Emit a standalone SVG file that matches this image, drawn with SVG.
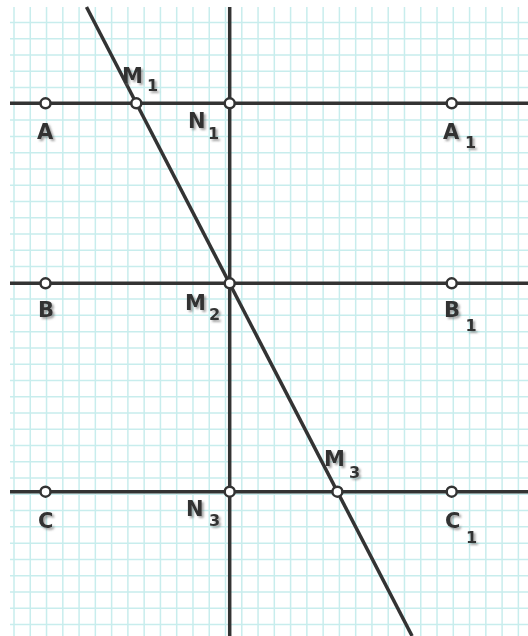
<svg xmlns="http://www.w3.org/2000/svg" width="528" height="636" viewBox="0 0 528 636">
<defs>
<style>
.grid{stroke:#c8eded;stroke-width:1.5;fill:none}
.ln{stroke:#333;stroke-width:3.5;fill:none;stroke-linecap:butt}
.pt{fill:#fff;stroke:#333;stroke-width:2.5}
.lb{font-family:"DejaVu Sans",Verdana,sans-serif;font-weight:bold;font-size:21px;fill:#333;filter:url(#sh)}
.sub{font-size:16px}
</style>
<filter id="sh" x="-30%" y="-30%" width="160%" height="160%">
<feDropShadow dx="2" dy="2" stdDeviation="1.2" flood-color="#666" flood-opacity="0.6"/>
</filter>
</defs>
<rect width="528" height="636" fill="#fff"/>
<path class="grid" d="M14 7V636M30.27 7V636M46.54 7V636M62.81 7V636M79.08 7V636M95.35 7V636M111.62 7V636M127.89 7V636M144.16 7V636M160.43 7V636M176.7 7V636M192.97 7V636M209.24 7V636M225.51 7V636M241.78 7V636M258.05 7V636M274.32 7V636M290.59 7V636M306.86 7V636M323.13 7V636M339.4 7V636M355.67 7V636M371.94 7V636M388.21 7V636M404.48 7V636M420.75 7V636M437.02 7V636M453.29 7V636M469.56 7V636M485.83 7V636M502.1 7V636M518.37 7V636
M10 22.5H528M10 38.77H528M10 55.04H528M10 71.31H528M10 87.58H528M10 103.85H528M10 120.12H528M10 136.39H528M10 152.66H528M10 168.93H528M10 185.2H528M10 201.47H528M10 217.74H528M10 234.01H528M10 250.28H528M10 266.55H528M10 282.82H528M10 299.09H528M10 315.36H528M10 331.63H528M10 347.9H528M10 364.17H528M10 380.44H528M10 396.71H528M10 412.98H528M10 429.25H528M10 445.52H528M10 461.79H528M10 478.06H528M10 494.33H528M10 510.6H528M10 526.87H528M10 543.14H528M10 559.41H528M10 575.68H528M10 591.95H528M10 608.22H528M10 624.49H528"/>
<g id="connectors">
<line class="ln" x1="10" y1="103.3" x2="528" y2="103.3"/>
<line class="ln" x1="10" y1="283.3" x2="528" y2="283.3"/>
<line class="ln" x1="10" y1="491.7" x2="528" y2="491.7"/>
<line class="ln" x1="229.7" y1="7" x2="229.7" y2="636"/>
<line class="ln" x1="86.5" y1="7" x2="412.1" y2="636"/>
</g>
<g id="A"><circle class="pt" cx="45.5" cy="103.3" r="5"/><text class="lb" x="37" y="139">A</text></g>
<g id="M1"><circle class="pt" cx="136.3" cy="103.3" r="5"/><text class="lb" x="122" y="83">M<tspan class="sub" x="147" y="91">1</tspan></text></g>
<g id="N1"><circle class="pt" cx="229.7" cy="103.3" r="5"/><text class="lb" x="188" y="128">N<tspan class="sub" x="208" y="139">1</tspan></text></g>
<g id="A1"><circle class="pt" cx="451.7" cy="103.3" r="5"/><text class="lb" x="443" y="139">A<tspan class="sub" x="465" y="148">1</tspan></text></g>
<g id="B"><circle class="pt" cx="45.5" cy="283.3" r="5"/><text class="lb" x="38" y="317">B</text></g>
<g id="M2"><circle class="pt" cx="229.7" cy="283.3" r="5"/><text class="lb" x="185" y="310">M<tspan class="sub" x="209" y="320">2</tspan></text></g>
<g id="B1"><circle class="pt" cx="451.7" cy="283.3" r="5"/><text class="lb" x="444" y="317">B<tspan class="sub" x="465.5" y="331">1</tspan></text></g>
<g id="C"><circle class="pt" cx="45.5" cy="491.7" r="5"/><text class="lb" x="38" y="528">C</text></g>
<g id="N3"><circle class="pt" cx="229.7" cy="491.7" r="5"/><text class="lb" x="186" y="516">N<tspan class="sub" x="209" y="526">3</tspan></text></g>
<g id="M3"><circle class="pt" cx="337.4" cy="491.7" r="5"/><text class="lb" x="324" y="466">M<tspan class="sub" x="349" y="478">3</tspan></text></g>
<g id="C1"><circle class="pt" cx="451.7" cy="491.7" r="5"/><text class="lb" x="445" y="528">C<tspan class="sub" x="466" y="543">1</tspan></text></g>
</svg>
